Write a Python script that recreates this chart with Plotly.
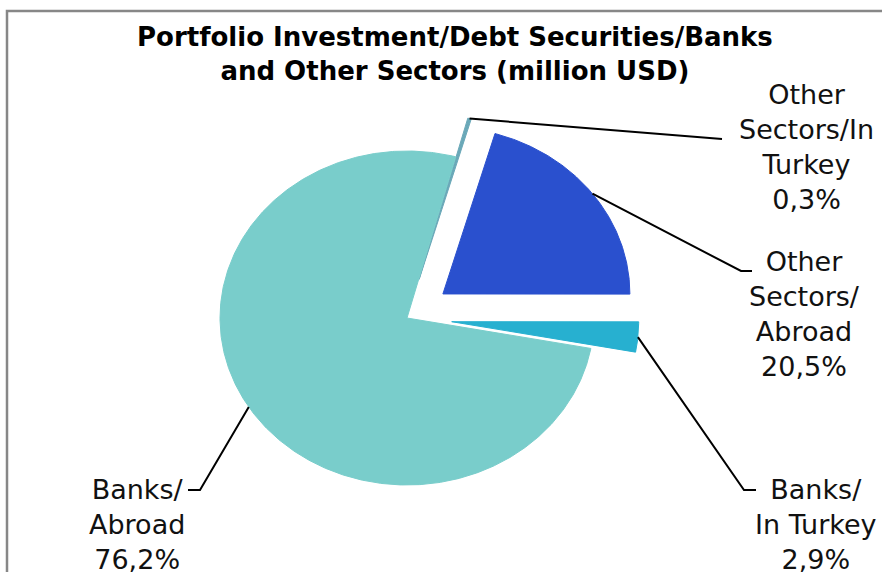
import numpy as np
import plotly.graph_objects as go

# Portfolio investment / debt securities, shares by sector
labels = ["Other Sectors/In Turkey", "Other Sectors/Abroad", "Banks/In Turkey", "Banks/Abroad"]
label_text = ["Other<br>Sectors/In<br>Turkey<br>0,3%",
              "Other<br>Sectors/<br>Abroad<br>20,5%",
              "Banks/<br>In Turkey<br>2,9%",
              "Banks/<br>Abroad<br>76,2%"]
shares = [0.3, 20.5, 2.9, 76.2]
pulls = [0.24, 0.24, 0.24, 0.0]
colors = ["#6AA8B8", "#2A50CE", "#27B0D0", "#79CDCB"]

# tilted pie geometry (pixel-like axes, y downward)
CX, CY = 407, 318
RX, RY = 187, 167
START = 15.1  # degrees clockwise from 12 o'clock

# label block positions and leader-line elbows
label_pos = [(806, 147), (804, 314), (816, 524), (137, 524)]
elbows = [[(712, 138), (722, 139)],
          [(741, 271), (752, 271)],
          [(744, 490), (756, 490)],
          [(200, 490), (188, 490)]]

fig = go.Figure()

total = sum(shares)
a0 = START
for i, v in enumerate(shares):
    span = v / total * 360.0
    a1 = a0 + span
    mid = np.radians((a0 + a1) / 2)
    ox = CX + pulls[i] * RX * np.sin(mid)
    oy = CY - pulls[i] * RY * np.cos(mid)
    th = np.radians(np.linspace(a0, a1, max(4, int(span * 2))))
    xs = np.concatenate([[ox], ox + RX * np.sin(th), [ox]])
    ys = np.concatenate([[oy], oy - RY * np.cos(th), [oy]])
    fig.add_trace(go.Scatter(x=xs, y=ys, fill="toself", fillcolor=colors[i],
                             mode="lines", line=dict(color=colors[i], width=1),
                             name=labels[i], hoverinfo="name"))
    # leader line from the middle of the slice arc
    ax = ox + RX * np.sin(mid)
    ay = oy - RY * np.cos(mid)
    lx = [ax] + [p[0] for p in elbows[i]]
    ly = [ay] + [p[1] for p in elbows[i]]
    fig.add_trace(go.Scatter(x=lx, y=ly, mode="lines",
                             line=dict(color="black", width=2),
                             hoverinfo="skip"))
    fig.add_annotation(x=label_pos[i][0], y=label_pos[i][1], text=label_text[i],
                       showarrow=False, xanchor="center", yanchor="middle",
                       align="center",
                       font=dict(family="DejaVu Sans", size=27, color="#111111"))
    a0 = a1

fig.add_annotation(x=455, y=54, text="Portfolio Investment/Debt Securities/Banks<br>and Other Sectors (million USD)",
                   showarrow=False, xanchor="center", yanchor="middle", align="center",
                   font=dict(family="DejaVu Sans", size=26, color="black", weight="bold"))

# chart frame
fig.add_shape(type="rect", x0=7, y0=11, x1=900, y1=600,
              line=dict(color="#878787", width=2.5), layer="below")

fig.update_layout(
    width=882, height=572, margin=dict(l=0, r=0, t=0, b=0),
    paper_bgcolor="white", plot_bgcolor="white", showlegend=False,
    xaxis=dict(range=[0, 882], visible=False, fixedrange=True),
    yaxis=dict(range=[572, 0], visible=False, fixedrange=True),
)

fig.write_html("out.html")
